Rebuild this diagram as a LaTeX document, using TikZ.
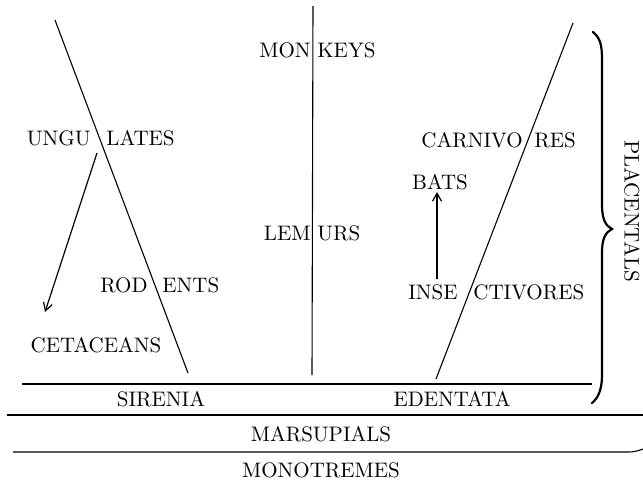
\documentclass[tikz,border=0pt]{standalone}
\usetikzlibrary{arrows.meta}
\begin{document}
\begin{tikzpicture}[x=0.5pt,y=-0.5pt,
  lbl/.style={inner sep=0pt,font=\fontsize{10.5}{12}\selectfont},
  rule/.style={line width=0.55pt},
  arr/.style={line width=0.6pt,-{Straight Barb[length=4pt,width=4.5pt]}},
  bracestyle/.style={line width=1.1pt,line cap=round}]
\useasboundingbox (0,0) rectangle (643,488);
% coordinates
\coordinate (l1) at (55,20);
\coordinate (l2) at (188,373);
\coordinate (c1) at (313,6);
\coordinate (c2) at (312,375);
\coordinate (r1) at (573,23);
\coordinate (r2) at (436,379);
\coordinate (ua) at (97,153);
\coordinate (ub) at (45,312);
\coordinate (ba) at (437,279);
\coordinate (bb) at (437,192);
% lines
\draw[rule] (l1) -- (l2);
\draw[rule] (c1) -- (c2);
\draw[rule] (r1) -- (r2);
\draw[rule] (22,384) -- (592,384);
\draw[rule] (7,415) -- (643,415);
\draw[rule] (13,452) -- (628,452) .. controls (636,452) and (640,450) .. (643,449);
% arrows
\draw[arr] (ua) -- (ub);
\draw[arr] (ba) -- (bb);
% labels
\node[lbl,anchor=east] (ungu) at (91,138) {UNGU};
\node[lbl,anchor=west] (lates) at (106,138) {LATES};
\node[lbl,anchor=east] (rod) at (148,285) {ROD};
\node[lbl,anchor=west] (ents) at (162,285) {ENTS};
\node[lbl,anchor=east] (mon) at (311,50) {MON};
\node[lbl,anchor=west] (keys) at (317,50) {KEYS};
\node[lbl,anchor=east] (lem) at (311,233) {LEM};
\node[lbl,anchor=west] (urs) at (317,233) {URS};
\node[lbl,anchor=east] (carnivo) at (523,140) {CARNIVO};
\node[lbl,anchor=west] (res) at (534,140) {RES};
\node[lbl] (bats) at (440,182) {BATS};
\node[lbl,anchor=east] (inse) at (458,292) {INSE};
\node[lbl,anchor=west] (ctiv) at (473,292) {CTIVORES};
\node[lbl] (cet) at (96,345) {CETACEANS};
\node[lbl] (sir) at (161,399) {SIRENIA};
\node[lbl] (ede) at (452,399) {EDENTATA};
\node[lbl] (mar) at (321,434) {MARSUPIALS};
\node[lbl] (mono) at (321,470) {MONOTREMES};
\node[lbl,rotate=-90] (plac) at (632,211) {PLACENTALS};
% brace
\draw[bracestyle] (593,32) .. controls (600,38) and (602,44) .. (602,60)
  -- (602,205) .. controls (602,220) and (606,226) .. (612,229)
  .. controls (606,232) and (602,238) .. (602,252)
  -- (602,375) .. controls (602,390) and (598,398) .. (592,403);
\end{tikzpicture}
\end{document}
